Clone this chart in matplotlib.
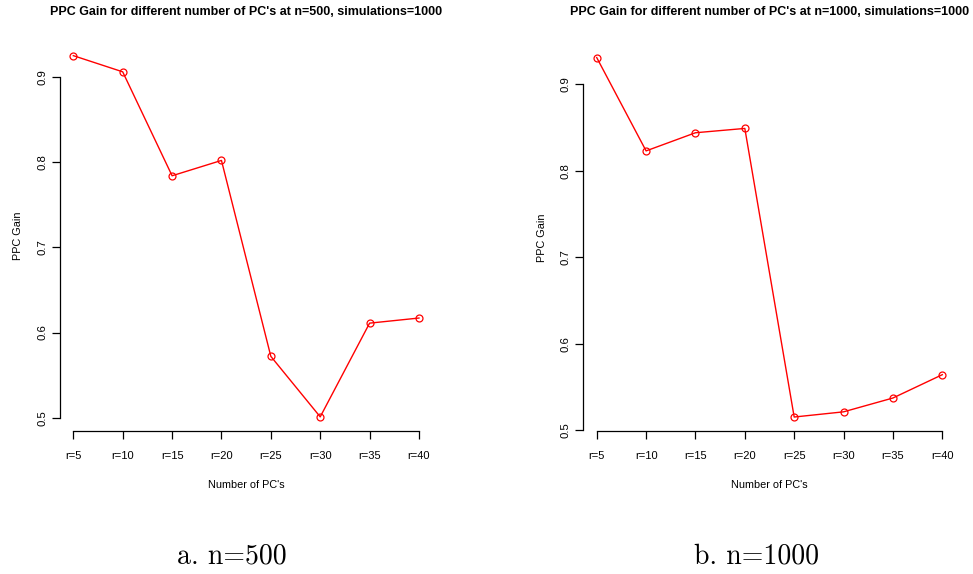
import matplotlib
matplotlib.use("Agg")
import matplotlib.pyplot as plt
import numpy as np

categories = ["r=5", "r=10", "r=15", "r=20", "r=25", "r=30", "r=35", "r=40"]
gain_n500 = [0.925, 0.906, 0.784, 0.802, 0.572, 0.501, 0.611, 0.617]
gain_n1000 = [0.931, 0.823, 0.844, 0.849, 0.515, 0.521, 0.537, 0.564]
yticks = [0.5, 0.6, 0.7, 0.8, 0.9]
ytick_labels = ["0.5", "0.6", "0.7", "0.8", "0.9"]
titles = ["PPC Gain for different number of PC's at n=500, simulations=1000",
          "PPC Gain for different number of PC's at n=1000, simulations=1000"]
captions = ["a. n=500", "b. n=1000"]

W, H = 973, 574
fig = plt.figure(figsize=(W / 100, H / 100), dpi=100)

sans = ["Liberation Sans", "DejaVu Sans"]

def px_axes(x0, x1, ytop, ybot):
    return [x0 / W, (H - ybot) / H, (x1 - x0) / W, (ybot - ytop) / H]

positions = [px_axes(59.5, 432.8, 41.2, 431.3), px_axes(582.9, 956.1, 43.2, 431.4)]
series = [gain_n500, gain_n1000]
caption_x = [231.5, 756.5]
title_pads = [19, 20.5]

for pos, vals, title, cap, cx, tp in zip(positions, series, titles, captions,
                                         caption_x, title_pads):
    ax = fig.add_axes(pos)
    x = np.arange(1, len(categories) + 1)
    ax.plot(x, vals, color="red", lw=1.0, marker="o", ms=5, mfc="none",
            mec="red", mew=0.9)
    # R-style 4% extension
    xr = x.max() - x.min()
    ax.set_xlim(x.min() - 0.04 * xr, x.max() + 0.04 * xr)
    lo, hi = min(vals), max(vals)
    yr = hi - lo
    ax.set_ylim(lo - 0.04 * yr, hi + 0.04 * yr)
    ax.set_xticks(x)
    ax.set_xticklabels(categories, fontsize=8, family=sans)
    ax.set_yticks(yticks)
    ax.set_yticklabels(ytick_labels, fontsize=8.2, family=sans, rotation=90, va="center")
    for s in ["top", "right"]:
        ax.spines[s].set_visible(False)
    ax.spines["bottom"].set_bounds(x.min(), x.max())
    ax.spines["left"].set_bounds(yticks[0], yticks[-1])
    for s in ["bottom", "left"]:
        ax.spines[s].set_linewidth(0.9)
    ax.tick_params(axis="both", direction="out", length=6, width=0.9, color="black")
    ax.tick_params(axis="x", pad=8)
    ax.tick_params(axis="y", pad=3)
    ax.set_xlabel("Number of PC's", fontsize=7.8, family=sans, labelpad=14)
    ax.set_ylabel("PPC Gain", fontsize=7.8, family=sans, labelpad=10)
    ax.set_title(title, fontsize=9, family=sans, fontweight="bold", pad=tp)
    fig.text(cx / W, 1 - 563 / H, cap, family=["cmr10", "DejaVu Serif"], fontsize=20,
             ha="center", va="baseline")

fig.savefig("out.png", dpi=100)
